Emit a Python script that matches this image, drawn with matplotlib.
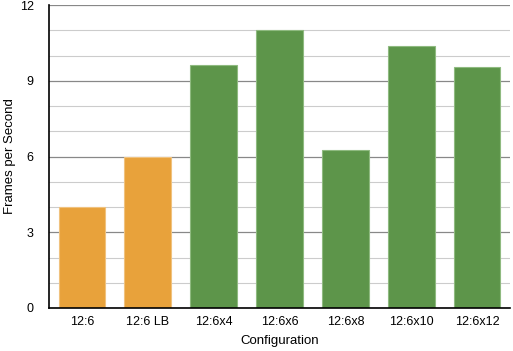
import matplotlib
matplotlib.use("Agg")
import matplotlib.pyplot as plt
import numpy as np

configs = ["12:6", "12:6 LB", "12:6x4", "12:6x6", "12:6x8", "12:6x10", "12:6x12"]
fps = [4.0, 6.0, 9.62, 11.02, 6.26, 10.38, 9.55]
colors = ["#e8a23b", "#e8a23b", "#5d954a", "#5d954a", "#5d954a", "#5d954a", "#5d954a"]
edges = ["#f0c27e", "#f0c27e", "#8fba80", "#8fba80", "#8fba80", "#8fba80", "#8fba80"]

plt.rcParams["font.family"] = ["Liberation Sans", "DejaVu Sans"]

fig = plt.figure(figsize=(5.13, 3.51), dpi=100)
ax = fig.add_axes([49 / 513, 1 - 308 / 351, 461 / 513, 303 / 351])

x = np.arange(len(configs))
ax.bar(x, fps, width=0.71, color=colors, edgecolor=edges, linewidth=0.8, zorder=3)

ax.set_xlim(-0.5, len(configs) - 0.5)
ax.set_ylim(0, 12)
ax.set_yticks([0, 3, 6, 9, 12])
ax.set_yticks(np.arange(0, 13, 1), minor=True)
ax.grid(axis="y", which="minor", color="#cccccc", linewidth=0.8, zorder=1)
ax.grid(axis="y", which="major", color="#888888", linewidth=0.9, zorder=2)

ax.set_xticks(x)
ax.set_xticklabels(configs)
ax.tick_params(axis="both", which="both", length=0, labelsize=9)
ax.tick_params(axis="x", pad=6)
ax.tick_params(axis="y", pad=11)

for s in ["top", "right"]:
    ax.spines[s].set_visible(False)
ax.spines["left"].set_linewidth(1.2)
ax.spines["bottom"].set_linewidth(1.2)
ax.spines["left"].set_zorder(4)
ax.spines["bottom"].set_zorder(4)

ax.set_xlabel("Configuration", fontsize=9.5, labelpad=5)
# y label placed by hand, the automatic one ends up off the left edge
fig.text(10 / 513, 1 - 156 / 351, "Frames per Second", fontsize=9.5,
         rotation=90, ha="center", va="center")

fig.savefig("out.png", dpi=100)
